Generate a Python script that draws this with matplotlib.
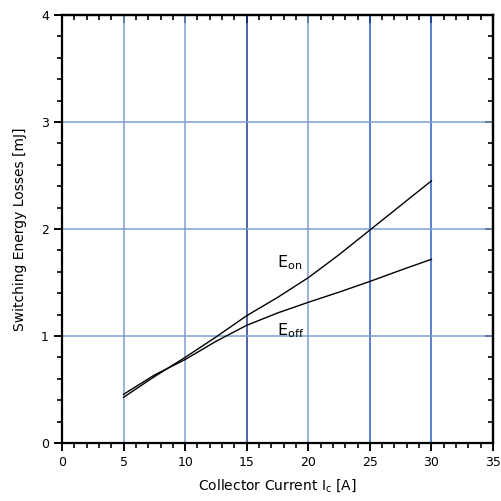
import matplotlib
matplotlib.use("Agg")
import matplotlib.pyplot as plt
from matplotlib.ticker import MultipleLocator

# Data
ic = [5, 7.5, 10, 12.5, 15, 17.5, 20, 22.5, 25, 27.5, 30]
eon = [0.427, 0.62, 0.80, 0.99, 1.19, 1.36, 1.545, 1.76, 1.99, 2.22, 2.45]
eoff = [0.455, 0.635, 0.78, 0.95, 1.10, 1.215, 1.315, 1.41, 1.51, 1.615, 1.717]

xticks = [0, 5, 10, 15, 20, 25, 30, 35]
yticks = [0, 1, 2, 3, 4]
vgrid = [5, 10, 15, 20, 25, 30]
vgrid_colors = ["#7f9fd0", "#7f9fd0", "#1f3a8a", "#7f9fd0", "#2a5cc0", "#2a5cc0"]
hgrid = [1, 2, 3]

plt.rcParams['font.family'] = ['DejaVu Sans']
fig = plt.figure(figsize=(5.02, 5.01), dpi=100)
ax = fig.add_axes([62/502, 58/501, 431/502, 428/501])

for xv, c in zip(vgrid, vgrid_colors):
    ax.axvline(xv, color=c, lw=1.1, zorder=1)
for yv in hgrid:
    ax.axhline(yv, color="#7f9fd0", lw=1.1, zorder=1)

ax.plot(ic, eon, color="black", lw=1.0, zorder=3)
ax.plot(ic, eoff, color="black", lw=1.0, zorder=3)

ax.text(17.5, 1.64, r"E$_{\mathregular{on}}$", fontsize=11.5, zorder=4)
ax.text(17.5, 1.01, r"E$_{\mathregular{off}}$", fontsize=11.5, zorder=4)

ax.set_xlim(0, 35)
ax.set_ylim(0, 4)
ax.set_xticks(xticks)
ax.set_yticks(yticks)
ax.xaxis.set_minor_locator(MultipleLocator(1))
ax.yaxis.set_minor_locator(MultipleLocator(0.2))
ax.tick_params(which='major', direction='out', length=6, width=1.4, labelsize=9, colors='black')
ax.tick_params(which='minor', direction='out', length=3.5, width=1.2)
for s in ax.spines.values():
    s.set_linewidth(1.6)

sx = ax.secondary_xaxis('top')
sx.set_xticks(xticks)
sx.xaxis.set_minor_locator(MultipleLocator(1))
sx.tick_params(which='major', direction='in', length=6, width=1.4, labeltop=False)
sx.tick_params(which='minor', direction='in', length=3.5, width=1.2)
sx.spines['top'].set_linewidth(1.6)

sy = ax.secondary_yaxis('right')
sy.set_yticks(yticks)
sy.yaxis.set_minor_locator(MultipleLocator(0.2))
sy.tick_params(which='major', direction='in', length=6, width=1.4, labelright=False)
sy.tick_params(which='minor', direction='in', length=3.5, width=1.2)
sy.spines['right'].set_linewidth(1.6)

ax.set_xlabel(r"Collector Current I$_{\mathregular{c}}$ [A]", fontsize=10, labelpad=6)
ax.set_ylabel("Switching Energy Losses [mJ]", fontsize=10, labelpad=10)

fig.savefig("out.png", dpi=100)
